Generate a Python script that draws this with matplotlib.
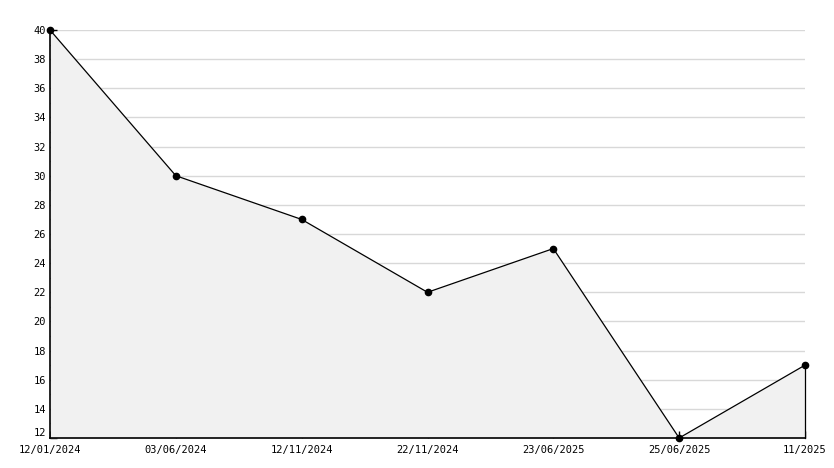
import numpy as np
import matplotlib
matplotlib.use("Agg")
import matplotlib.pyplot as plt

# chart data
dates = ['12/01/2024', '03/06/2024', '12/11/2024', '22/11/2024',
         '23/06/2025', '25/06/2025', '11/2025']
values = [40, 30, 27, 22, 25, 12, 17]

x = np.arange(len(dates))

fig = plt.figure(figsize=(8.34, 4.68), dpi=100)
ax = fig.add_axes([50 / 834, 30 / 468, 755 / 834, 408 / 468])

ax.grid(axis='y', color='#d8d8d8', lw=1)
ax.set_axisbelow(True)

ax.fill_between(x, values, 12, color='#f1f1f1', lw=0, zorder=2)
ax.plot([x[-1], x[-1]], [12, values[-1]], color='black', lw=0.9, zorder=3, clip_on=False)
ax.plot(x, values, color='black', lw=0.9, marker='o', markersize=4.5, zorder=4, clip_on=False)

ax.set_xlim(0, len(dates) - 1)
ax.set_ylim(12, 40)
ax.set_yticks(np.arange(12, 41, 2))
ax.set_yticks(np.arange(13, 40, 2), minor=True)
ax.set_xticks(x)
ax.set_xticklabels(dates)

for s in ['top', 'right']:
    ax.spines[s].set_visible(False)
ax.spines['left'].set_linewidth(1.2)
ax.spines['bottom'].set_linewidth(1.2)
ax.spines['left'].set_zorder(5)
ax.spines['bottom'].set_zorder(5)

ax.tick_params(axis='both', direction='in', length=5, width=1, labelsize=7.5, pad=3)
ax.tick_params(axis='y', which='minor', direction='in', length=4, width=1)
for lbl in ax.get_xticklabels() + ax.get_yticklabels():
    lbl.set_family('DejaVu Sans Mono')
ax.tick_params(axis='x', pad=5)
ax.get_yticklabels()[0].set_verticalalignment('bottom')

fig.savefig('out.png', dpi=100)
